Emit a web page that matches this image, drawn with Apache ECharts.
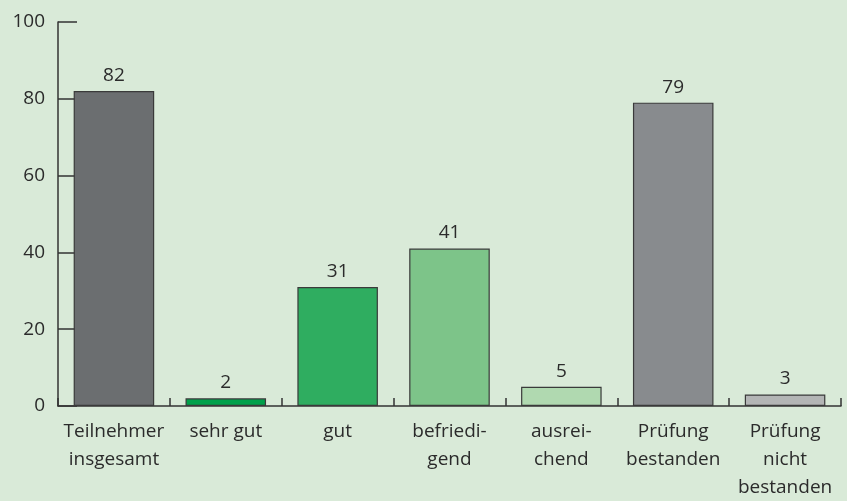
<!DOCTYPE html>
<html>
<head>
<meta charset="utf-8">
<script src="https://cdn.jsdelivr.net/npm/echarts@6/dist/echarts.min.js"></script>
<style>
html,body{margin:0;padding:0;background:#d9ead8;}
#chart{width:847px;height:501px;}
</style>
</head>
<body>
<div id="chart"></div>
<script>
// Kategorien und Werte
var kategorien = ['Teilnehmer\ninsgesamt', 'sehr gut', 'gut', 'befriedi-\ngend', 'ausrei-\nchend', 'Prüfung\nbestanden', 'Prüfung\nnicht\nbestanden'];
var werte = [82, 2, 31, 41, 5, 79, 3];
var farben = ['#6b6e70', '#00a04a', '#2fad60', '#7dc489', '#b0d9b0', '#888b8e', '#b3b5b5'];
var yMin = 0, yMax = 100, yStep = 20;

var schrift = '"Open Sans", "Noto Sans", sans-serif';

var daten = [];
for (var i = 0; i < werte.length; i++) {
    daten.push({value: werte[i], itemStyle: {color: farben[i]}});
}

var chart = echarts.init(document.getElementById('chart'));
var option = {
    backgroundColor: '#d9ead8',
    animation: false,
    grid: {left: 58, right: 6, top: 22, bottom: 95, containLabel: false, outerBoundsMode: 'none'},
    xAxis: {
        type: 'category',
        data: kategorien,
        axisLine: {lineStyle: {color: '#333', width: 1.5}},
        axisTick: {show: true, inside: true, length: 8, alignWithLabel: false, lineStyle: {color: '#333', width: 1.5}},
        axisLabel: {color: '#2b2b2b', fontSize: 19, fontFamily: schrift, margin: 12, lineHeight: 28, interval: 0}
    },
    yAxis: {
        type: 'value',
        min: yMin, max: yMax, interval: yStep,
        splitLine: {show: false},
        axisLine: {show: true, lineStyle: {color: '#333', width: 1.5}},
        axisTick: {show: true, inside: true, length: 19, lineStyle: {color: '#333', width: 1.5}},
        axisLabel: {color: '#2b2b2b', fontSize: 19, fontFamily: schrift, margin: 13}
    },
    series: [{
        type: 'bar',
        data: daten,
        barWidth: '72%',
        itemStyle: {borderColor: '#3a3a3a', borderWidth: 1.2},
        label: {show: true, position: 'top', distance: 6, color: '#2b2b2b', fontSize: 19, fontFamily: schrift}
    }]
};
chart.setOption(option);
</script>
</body>
</html>
